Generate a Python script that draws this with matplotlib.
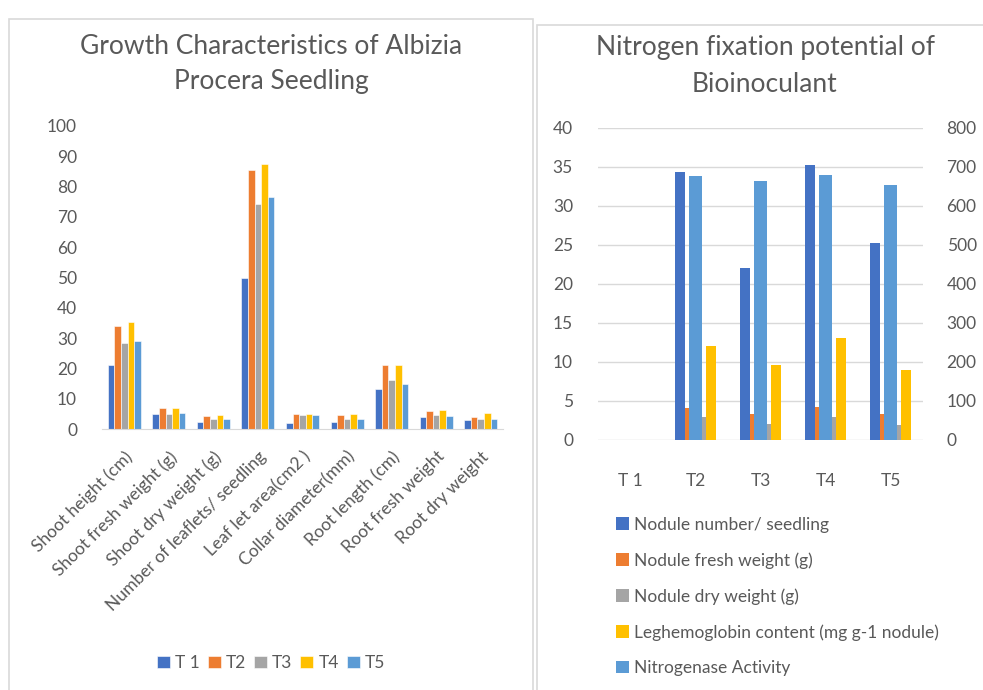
import numpy as np
import matplotlib.pyplot as plt
from matplotlib.patches import Rectangle

plt.rcParams['font.family'] = ['Lato', 'DejaVu Sans']
txt = '#595959'

# left chart data
params = ['Shoot height (cm)', 'Shoot fresh weight (g)', 'Shoot dry weight (g)',
          'Number of leaflets/ seedling', 'Leaf let area(cm2 )', 'Collar diameter(mm)',
          'Root length (cm)', 'Root fresh weight', 'Root dry weight']
treat_names = ['T 1', 'T2', 'T3', 'T4', 'T5']
T1 = [21.0, 4.9, 2.3, 50.0, 2.1, 2.2, 13.2, 3.8, 3.0]
T2 = [33.9, 6.8, 4.4, 85.4, 4.8, 4.7, 21.0, 6.0, 4.1]
T3 = [28.5, 5.0, 3.4, 74.1, 4.5, 3.4, 16.2, 4.7, 3.3]
T4 = [35.2, 6.8, 4.7, 87.3, 4.9, 4.8, 21.2, 6.3, 5.3]
T5 = [29.2, 5.2, 3.4, 76.5, 4.6, 3.4, 15.0, 4.2, 3.2]

# right chart data
treatments = ['T 1', 'T2', 'T3', 'T4', 'T5']
nodule_number = [0, 34.3, 22.1, 35.2, 25.3]
nodule_fresh = [0, 4.06, 3.34, 4.24, 3.38]
nodule_dry = [0, 2.95, 2.05, 3.0, 1.93]
leghemoglobin = [0, 12.0, 9.67, 13.05, 8.94]
nitrogenase = [0, 677, 665, 680, 653]

colors = ['#4472C4', '#ED7D31', '#A5A5A5', '#FFC000', '#5B9BD5']

W, H = 983, 690
fig = plt.figure(figsize=(W / 100, H / 100), dpi=100)

def box(x0, y0, x1, y1):
    return [x0 / W, 1 - y1 / H, (x1 - x0) / W, (y1 - y0) / H]

# panel frames
fig.patches.append(Rectangle((9 / W, -0.01), (533 - 9) / W, 1 - 19 / H + 0.01,
                             transform=fig.transFigure, fill=False, ec='#d9d9d9', lw=1.2))
fig.patches.append(Rectangle((537 / W, -0.01), (990 - 537) / W, 1 - 25 / H + 0.01,
                             transform=fig.transFigure, fill=False, ec='#d9d9d9', lw=1.2))

# ---------- left chart ----------
ax = fig.add_axes(box(102, 126, 503, 429))
x = np.arange(len(params))
series = [T1, T2, T3, T4, T5]
bw = 0.74 / 5
for i, s in enumerate(series):
    ax.bar(x + (i - 2) * bw, s, bw, color=colors[i], label=treat_names[i],
           edgecolor='white', linewidth=0.4)
ax.set_xlim(-0.5, len(params) - 0.5)
ax.set_ylim(0, 100)
ax.set_yticks(range(0, 101, 10))
ax.set_xticks(x)
ax.set_xticklabels(params, rotation=45, ha='right', rotation_mode='anchor')
for sp in ['top', 'right', 'left']:
    ax.spines[sp].set_visible(False)
ax.spines['bottom'].set_color('#d9d9d9')
ax.tick_params(axis='both', length=0, colors=txt, labelsize=12.5)
ax.tick_params(axis='x', pad=14)
ax.tick_params(axis='y', pad=18)

fig.legend(loc='center', bbox_to_anchor=(271 / W, 1 - 663 / H), ncol=5, frameon=False,
           fontsize=12.5, handlelength=0.75, handleheight=0.75, handletextpad=0.3,
           columnspacing=0.45, labelcolor=txt)

fig.text(271 / W, 1 - 47 / H, 'Growth Characteristics of Albizia', ha='center', va='center',
         fontsize=19, color=txt)
fig.text(271 / W, 1 - 82 / H, 'Procera Seedling', ha='center', va='center',
         fontsize=19, color=txt)

# ---------- right chart ----------
ax1 = fig.add_axes(box(598, 128, 923, 440))
xr = np.arange(len(treatments))
pw = 0.646 / 4
prim = [nodule_number, nodule_fresh, nodule_dry, leghemoglobin]
prim_lab = ['Nodule number/ seedling', 'Nodule fresh weight (g)', 'Nodule dry weight (g)',
            'Leghemoglobin content (mg g-1 nodule)']
handles = []
for i, s in enumerate(prim):
    h = ax1.bar(xr + (i - 1.5) * pw, s, pw, color=colors[i], label=prim_lab[i], zorder=2)
    handles.append(h)
ax1.set_xlim(-0.5, len(treatments) - 0.5)
ax1.set_ylim(0, 40)
ax1.set_yticks(range(0, 41, 5))
ax1.grid(axis='y', color='#d9d9d9', lw=1, zorder=0)
ax1.set_axisbelow(True)
ax1.set_xticks(xr)
ax1.set_xticklabels(treatments)
for sp in ax1.spines.values():
    sp.set_visible(False)
ax1.tick_params(axis='both', length=0, colors=txt, labelsize=12.5)
ax1.tick_params(axis='x', pad=24)
ax1.tick_params(axis='y', pad=18)

ax2 = ax1.twinx()
h = ax2.bar(xr, nitrogenase, 0.195, color=colors[4], label='Nitrogenase Activity', zorder=3)
handles.append(h)
ax2.set_ylim(0, 800)
ax2.set_yticks(range(0, 801, 100))
for sp in ax2.spines.values():
    sp.set_visible(False)
ax2.tick_params(axis='y', length=0, colors=txt, labelsize=12.5, pad=17)

fig.legend(handles=handles, loc='upper left', bbox_to_anchor=(600 / W, 1 - 501 / H),
           ncol=1, frameon=False, fontsize=12.5, handlelength=0.75, handleheight=0.75,
           handletextpad=0.3, labelspacing=1.12, labelcolor=txt)

fig.text(765 / W, 1 - 48 / H, 'Nitrogen fixation potential of', ha='center', va='center',
         fontsize=19, color=txt)
fig.text(765 / W, 1 - 85 / H, 'Bioinoculant', ha='center', va='center',
         fontsize=19, color=txt)

fig.savefig('out.png', dpi=100)
